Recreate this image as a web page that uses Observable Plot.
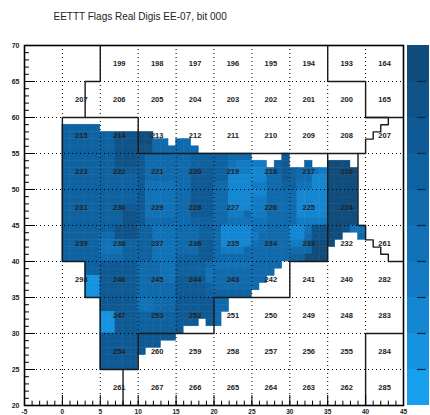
<!DOCTYPE html>
<html><head><meta charset="utf-8">
<script src="https://cdn.jsdelivr.net/npm/d3@7"></script>
<script src="https://cdn.jsdelivr.net/npm/@observablehq/plot@0.6"></script>
<style>
html,body{margin:0;padding:0;background:#fff;}
#wrap{position:relative;width:430px;height:415px;overflow:hidden;}
#bar{position:absolute;left:407px;top:45px;}
svg{display:block;}
</style></head><body><div id="wrap"><div id="main"></div><div id="bar"></div></div>
<script>
const title = "EETTT Flags Real Digis EE-07, bit 000";

// colour levels (0 = lightest, 9 = darkest) and palette
const levels = [0,1,2,3,4,5,6,7,8,9];
const palette = ["#17a0ee","#1592e0","#1486d2","#127bc4","#1172b8","#106aac","#0f62a0","#0f5a94","#0f5388","#104c7c"];

// per-crystal levels, one string per row; first row is y=58, x starts at 0; "." = empty
const cellTopY = 58;
const cellRows = [
  "66666",
  "66666"+"66888"+"99",
  "66666"+"66888"+"9955."+"55",
  "66666"+"66888"+"88555"+"555",
  "66666"+"66888"+"75555"+"55666"+"66555"+"....7",
  "66666"+"66888"+"75555"+"55666"+"66433"+"33.67"+"..6.."+"999",
  "66666"+"66777"+"75555"+"55777"+"66333"+"22567"+"65543"+"9999",
  "66666"+"66666"+"75555"+"55777"+"66222"+"22557"+"65522"+"9999",
  "66666"+"66666"+"74444"+"55777"+"55222"+"33556"+"64422"+"9999",
  "66666"+"66666"+"74444"+"55777"+"55222"+"22555"+"52222"+"9999",
  "66666"+"66666"+"74444"+"55777"+"55222"+"33555"+"52222"+"9999",
  "66666"+"66677"+"74444"+"55777"+"55222"+"33555"+"52222"+"9999",
  "66666"+"66688"+"74444"+"55777"+"55335"+"33555"+"52222"+"9999",
  "66666"+"66688"+"75555"+"55666"+"55444"+"44555"+"53333"+"9999",
  "66666"+"66888"+"66444"+"55566"+"52222"+"44555"+"22488"+"99844",
  "66666"+"55888"+"66444"+"55566"+"52222"+"35555"+"22588"+"99..5",
  "66666"+"44466"+"66444"+"55577"+"52222"+"45555"+"33699"+"9",
  "66666"+"44466"+"66444"+"55577"+"53335"+"55555"+"55599",
  "66666"+"55566"+"66444"+"66677"+"55555"+"55555"+"66999",
  "...66"+"77777"+"55544"+"66665"+"44444"+"5555.",
  "...66"+"77777"+"55544"+"66664"+"55555"+"555",
  "...11"+"77777"+"55544"+"77774"+"55555"+"55",
  "...11"+"77777"+"55555"+"77776"+"55555"+"5",
  "...11"+"77777"+"55555"+"77776"+"66666",
  "....."+"77777"+"44555"+"77777"+"55",
  "....."+"77777"+"44555"+"77777"+"55",
  "....."+"11777"+"66666"+"77777"+"5",
  "....."+"11777"+"66666"+"777.7"+"5",
  "....."+"11777"+"66666"+"7",
  "....."+"77777"+"77777",
  "....."+"77777"+"777",
  "....."+"77777"+"7",
  "....."+"77777",
  "....."+"77777"
];

// supercrystal labels
const scColX = [2.5, 7.5, 12.5, 17.5, 22.5, 27.5, 32.5, 37.5, 42.5];
const scRowY = [67.5, 62.5, 57.5, 52.5, 47.5, 42.5, 37.5, 32.5, 27.5, 22.5];
const scLabels = [
  ["", "199","198","197","196","195","194","193","164"],
  ["207","206","205","204","203","202","201","200","165"],
  ["215","214","213","212","211","210","209","208","207"],
  ["223","222","221","220","219","218","217","216",""],
  ["231","230","229","228","227","226","225","224",""],
  ["239","238","237","236","235","234","233","232","261"],
  ["298","246","245","244","243","242","241","240","282"],
  ["","247","253","252","251","250","249","248","283"],
  ["","254","260","259","258","257","256","255","284"],
  ["","261","267","266","265","264","263","262","285"]
];

// region outlines
const outlines = [
  [[5,70],[5,65],[3,65],[3,60],[0,60],[0,40],[3,40],[3,35],[5,35],[5,25],[10,25],[10,30],[20,30],[20,35],[30,35],[30,40],[35,40],[35,55],[39,55],[39,45],[40,45],[40,43],[41,43],[41,42],[42,42],[42,41],[43,41],[43,40],[45,40]],
  [[3,60],[10,60],[10,55],[35,55]],
  [[8,25],[8,20]],
  [[35,70],[35,65],[40,65],[40,60],[45,60]],
  [[40,60],[43,60],[43,59],[42,59],[42,58],[41,58],[41,57],[40,57],[40,55],[39,55]],
  [[40,20],[40,30],[45,30]]
];

// axes
const xMajor = [-5,0,5,10,15,20,25,30,35,40,45];
const yMajor = [20,25,30,35,40,45,50,55,60,65,70];
const xGrid = [0,5,10,15,20,25,30,35,40];
const yGrid = [25,30,35,40,45,50,55,60,65];
const xMinor = d3.range(-5, 46, 1);
const yMinor = d3.range(20, 71, 1);

const cells = [];
cellRows.forEach((row, i) => {
  const y = cellTopY - i;
  [...row].forEach((ch, x) => { if (ch !== ".") cells.push({x, y, level: +ch}); });
});
const labels = [];
scLabels.forEach((row, i) => row.forEach((t, j) => { if (t) labels.push({x: scColX[j], y: scRowY[i], t}); }));

const colorScale = {type: "ordinal", domain: levels, range: palette};
const font = "'Liberation Sans', Arial, sans-serif";

const main = Plot.plot({
  width: 430, height: 415,
  marginLeft: 24, marginRight: 27, marginTop: 45, marginBottom: 10,
  style: {background: "white", fontFamily: font},
  x: {domain: [-5, 45], axis: null},
  y: {domain: [20, 70], axis: null},
  color: colorScale,
  marks: [
    Plot.rect(cells, {x1: d => d.x, x2: d => d.x + 1, y1: d => d.y, y2: d => d.y + 1, fill: "level", stroke: "level", strokeWidth: 0.5}),
    Plot.ruleX(xGrid, {stroke: "#000", strokeWidth: 1, strokeDasharray: "1,3"}),
    Plot.ruleY(yGrid, {stroke: "#000", strokeWidth: 1, strokeDasharray: "1,3"}),
    ...outlines.map(o => Plot.line(o, {x: d => d[0], y: d => d[1], stroke: "#1a1a1a", strokeWidth: 1.4})),
    Plot.ruleY(yMinor, {x1: -5, x2: -4.35, stroke: "#000", strokeWidth: 1}),
    Plot.ruleY(yMajor, {x1: -5, x2: -3.55, stroke: "#000", strokeWidth: 1}),
    Plot.ruleX(xMinor, {y1: 20, y2: 20.6, stroke: "#000", strokeWidth: 1}),
    Plot.ruleX(xMajor, {y1: 20, y2: 21.4, stroke: "#000", strokeWidth: 1}),
    Plot.frame({stroke: "#000", strokeWidth: 1.6}),
    Plot.text(yMajor, {x: -5, y: d => d, text: d => String(d), textAnchor: "end", dx: -5, fontSize: 7, fontWeight: "bold", fill: "#222"}),
    Plot.text(xMajor, {x: d => d, y: 20, text: d => String(d), dy: 6, fontSize: 6.5, fontWeight: "bold", fill: "#222"}),
    Plot.text(labels, {x: "x", y: "y", text: "t", fontSize: 7.5, fontWeight: "bold", fill: "#222"}),
    Plot.text([title], {frameAnchor: "top-left", dx: 29, dy: -33, textAnchor: "start", fontSize: 10, fill: "#222"})
  ]
});
document.getElementById("main").appendChild(main);

const bar = Plot.plot({
  width: 23, height: 360,
  marginLeft: 0, marginRight: 1, marginTop: 0, marginBottom: 0,
  style: {background: "transparent"},
  x: {domain: [0, 1], axis: null},
  y: {domain: [0, 10], axis: null},
  color: colorScale,
  marks: [
    Plot.rect(levels, {x1: 0, x2: 1, y1: d => d, y2: d => d + 1, fill: d => d}),
    Plot.ruleY(levels.slice(1), {x1: 0.45, x2: 0.85, stroke: "#082a48", strokeWidth: 1.2})
  ]
});
document.getElementById("bar").appendChild(bar);
</script></body></html>
